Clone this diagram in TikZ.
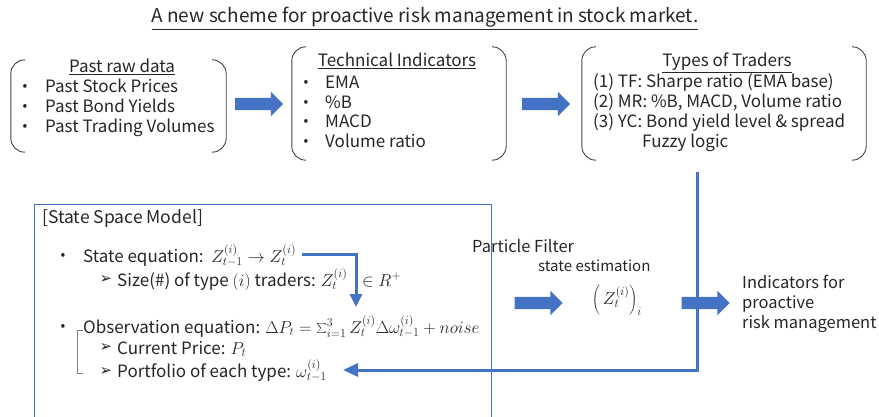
\documentclass[tikz,border=0pt]{standalone}
\usepackage{fontspec}
\setmainfont{Noto Sans CJK JP}
\newfontfamily\dingfont{DejaVu Sans}
\usetikzlibrary{arrows.meta,shapes.arrows}
\definecolor{officeblue}{HTML}{4472C4}
\definecolor{ink}{HTML}{262626}
\definecolor{bracketgray}{HTML}{404040}
\definecolor{thingray}{HTML}{7F7F7F}

% Draw the two round brackets that frame a (hidden) box node
\newcommand\sidebrackets[1]{%
  \draw[brk] ([xshift=14pt]#1.north west) -- (#1.north west) -- (#1.south west) -- ([xshift=14pt]#1.south west);
  \draw[brk] ([xshift=-14pt]#1.north east) -- (#1.north east) -- (#1.south east) -- ([xshift=-14pt]#1.south east);}
% formulas are set a little larger than the running text
\newcommand\fm[1]{{\fontsize{18.5}{20}\selectfont$#1$}}

\begin{document}
\begin{tikzpicture}[x=1pt,y=-1pt,
  every node/.style={text=ink, inner sep=0pt},
  txt/.style={anchor=base west, font=\fontsize{17}{20}\selectfont},
  ctxt/.style={anchor=base, font=\fontsize{17}{20}\selectfont},
  bul/.style={anchor=center, font=\fontsize{14}{16}\selectfont},
  pointer/.style={anchor=center, font=\dingfont\fontsize{15}{16}\selectfont},
  box/.style={draw=none, minimum width=#1},
  brk/.style={bracketgray, line width=0.9pt, rounded corners=14pt},
  blockarrow/.style={single arrow, fill=officeblue, draw=none, inner xsep=0pt,
    inner ysep=6pt, single arrow head extend=6pt, minimum height=48pt},
  conn/.style={officeblue, line width=3pt, -{Triangle[length=13pt,width=12pt]}},
  ssm/.style={officeblue, line width=0.8pt}]
\useasboundingbox (0,0) rectangle (879,417);

% title
\node[ctxt, font=\fontsize{19}{22}\selectfont] (title) at (425,23) {\underline{A new scheme for proactive risk management in stock market.}};

% --- past raw data
\node[box=215pt, minimum height=92pt] (raw) at (118.5,106) {};
\sidebrackets{raw}
\node[ctxt] (rawt) at (122,73) {\underline{Past raw data}};
\node[bul] (rb1) at (25,87) {•};
\node[txt] (r1) at (45,93) {Past Stock Prices};
\node[bul] (rb2) at (25,107) {•};
\node[txt] (r2) at (45,113) {Past Bond Yields};
\node[bul] (rb3) at (25,127) {•};
\node[txt] (r3) at (45,133) {Past Trading Volumes};

\node[blockarrow] (a1) at (256,104) {};

% --- technical indicators
\node[box=214pt, minimum height=113pt] (tech) at (399,103.5) {};
\sidebrackets{tech}
\node[ctxt] (techt) at (397,67) {\underline{Technical Indicators}};
\node[bul] (tb1) at (306,83) {•};
\node[txt] (t1) at (325,89) {EMA};
\node[bul] (tb2) at (306,103) {•};
\node[txt] (t2) at (325,109) {\%B};
\node[bul] (tb3) at (306,122) {•};
\node[txt] (t3) at (325,128) {MACD};
\node[bul] (tb4) at (306,142) {•};
\node[txt] (t4) at (325,148) {Volume ratio};

\node[blockarrow] (a2) at (543,104) {};

% --- types of traders
\node[box=284pt, minimum height=113pt] (types) at (724,103.5) {};
\sidebrackets{types}
\node[ctxt] (typest) at (727,67) {\underline{Types of Traders}};
\node[txt] (y1) at (593,88) {(1) TF: Sharpe ratio (EMA base)};
\node[txt] (y2) at (593,108) {(2) MR: \%B, MACD, Volume ratio};
\node[txt] (y3) at (593,128) {(3) YC: Bond yield level \& spread};
\node[txt] (y4) at (642,148) {Fuzzy logic};

% --- state space model
\draw[ssm] (34,204) rectangle (491,440);
\node[txt, font=\fontsize{17.5}{20}\selectfont] (ssmt) at (42,224) {[State Space Model]};
\node[bul] (sb1) at (63,256) {•};
\node[txt] (steq) at (83,262) {State equation:\ \ \fm{Z^{(i)}_{t-1}\rightarrow Z^{(i)}_t}};
\node[pointer] (sp1) at (106,280) {➢};
\node[txt] (size) at (117,286) {Size(\#) of type \fm{(i)} traders: \fm{Z^{(i)}_t\hspace{10pt}\in R^{+}}};
\node[bul] (sb2) at (63,327) {•};
\node[txt] (obs) at (83,333) {Observation equation: \fm{\Delta P_t=\sum_{i=1}^{3} Z^{(i)}_t\Delta\omega^{(i)}_{t-1}+noise}};
\node[pointer] (sp2) at (106,348) {➢};
\node[txt] (price) at (117,354) {Current Price: \fm{P_t}};
\node[pointer] (sp3) at (106,371) {➢};
\node[txt] (port) at (117,377) {Portfolio of each type: \fm{\omega^{(i)}_{t-1}}};
\draw[thingray, line width=0.7pt] (83,330) -- (77,330) -- (77,373) -- (83,373);

% state equation feeds the observation equation
\coordinate (s0) at (302,254);
\coordinate (s1) at (356,307);
\draw[conn] (s0) -| (s1);

% --- particle filter
\node[txt, font=\fontsize{16.5}{19}\selectfont] (pf) at (472,252) {Particle Filter};
\node[txt, font=\fontsize{15}{17}\selectfont] (se) at (538,271) {state estimation};
\node[blockarrow] (a3) at (535.5,303) {};
\node[anchor=center, font=\fontsize{18.5}{21}\selectfont] (zest) at (617,300) {$\left(\,Z^{(i)}_t\right)_{i}$};
\node[blockarrow] (a4) at (702.5,303) {};
\node[txt, font=\fontsize{16.5}{19}\selectfont] (ind1) at (742,288) {Indicators for};
\node[txt, font=\fontsize{16.5}{19}\selectfont] (ind2) at (742,308) {proactive};
\node[txt, font=\fontsize{16.5}{19}\selectfont] (ind3) at (742,328) {risk management};

% trader types feed back into the portfolios
\coordinate (tdrop) at (697.5,172);
\coordinate (ptip) at (343,370);
\draw[conn, -{Triangle[length=15pt,width=13pt]}] (tdrop) |- (ptip);
\end{tikzpicture}
\end{document}
